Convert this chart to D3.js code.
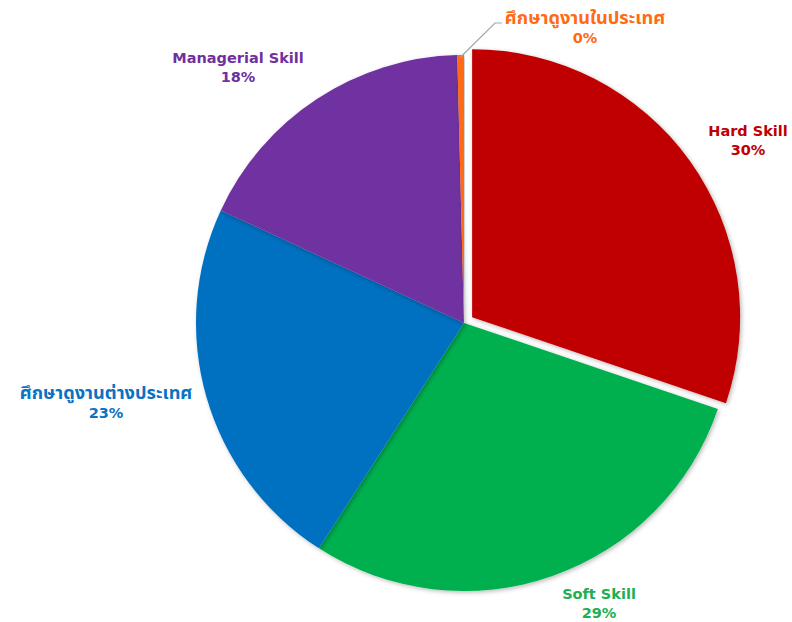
<!DOCTYPE html>
<html>
<head>
<meta charset="utf-8">
<script src="https://cdn.jsdelivr.net/npm/d3@7"></script>
<style>
  html, body { margin: 0; padding: 0; background: #fff; }
  svg { display: block; }
  text { font-family: "DejaVu Sans", "Noto Sans", "Noto Sans Thai", Tahoma, sans-serif; font-weight: bold; }
</style>
</head>
<body>
<div id="chart"></div>
<script>
// Training categories and their share of the total (percent)
const categories = ["Hard Skill", "Soft Skill", "ศึกษาดูงานต่างประเทศ", "Managerial Skill", "ศึกษาดูงานในประเทศ"];
const shares = [30.2, 28.9, 22.8, 17.7, 0.4];
const colors = ["#C00000", "#00B050", "#0070C0", "#7030A0", "#FF6A13"];
const labelColors = ["#C00000", "#1DAF50", "#0A72C2", "#7030A0", "#FF6A13"];
// slice pulled out of the pie
const exploded = [true, false, false, false, false];

const W = 792, H = 622;
const cx = 464, cy = 323, R = 268, explodeDist = 10;

const svg = d3.select("#chart").append("svg").attr("width", W).attr("height", H);

const defs = svg.append("defs");
const f = defs.append("filter").attr("id", "shadow")
  .attr("x", "-10%").attr("y", "-10%").attr("width", "120%").attr("height", "120%");
f.append("feDropShadow").attr("dx", 1.5).attr("dy", 1.5).attr("stdDeviation", 2)
  .attr("flood-color", "#000").attr("flood-opacity", 0.28);

const data = categories.map((c, i) => ({ name: c, value: shares[i], color: colors[i], lc: labelColors[i], ex: exploded[i] }));

const pie = d3.pie().value(d => d.value).sort(null);
const arcs = pie(data);
const arc = d3.arc().innerRadius(0).outerRadius(R);

const g = svg.append("g").attr("transform", `translate(${cx},${cy})`);

g.selectAll("path.slice")
  .data(arcs)
  .join("path")
  .attr("class", "slice")
  .attr("d", arc)
  .attr("fill", d => d.data.color)
  .attr("filter", "url(#shadow)")
  .attr("transform", d => {
    if (!d.data.ex) return null;
    const a = (d.startAngle + d.endAngle) / 2;
    return `translate(${Math.sin(a) * explodeDist},${-Math.cos(a) * explodeDist})`;
  });

// Label anchor positions (relative to centre) for each slice
const labelPos = [
  [284, -187],   // Hard Skill
  [135, 276],    // Soft Skill
  [-358, 76],    // ศึกษาดูงานต่างประเทศ
  [-226, -260],  // Managerial Skill
  [121, -299]    // ศึกษาดูงานในประเทศ
];

const isThai = s => /[\u0E00-\u0E7F]/.test(s);
const fmt = d3.format(".0f");
const labels = g.selectAll("g.label")
  .data(arcs)
  .join("g")
  .attr("class", "label")
  .attr("transform", (d, i) => `translate(${labelPos[i][0]},${labelPos[i][1]})`);

labels.append("text")
  .attr("text-anchor", "middle")
  .attr("font-size", d => isThai(d.data.name) ? 18.2 : 14.5)
  .attr("fill", d => d.data.lc)
  .attr("y", 0)
  .text(d => d.data.name);
labels.append("text")
  .attr("text-anchor", "middle")
  .attr("font-size", 14.5)
  .attr("fill", d => d.data.lc)
  .attr("y", 19)
  .text(d => fmt(d.data.value) + "%");

// Leader line for the tiny slice
const small = arcs[4];
const sa = (small.startAngle + small.endAngle) / 2;
const p0 = [Math.sin(sa) * (R - 2), -Math.cos(sa) * (R - 2)];
const p1 = [31, -300];
const p2 = [38, -300];
g.append("path")
  .attr("d", d3.line()([p0, p1, p2]))
  .attr("fill", "none")
  .attr("stroke", "#A6A6A6")
  .attr("stroke-width", 1.2);
</script>
</body>
</html>
